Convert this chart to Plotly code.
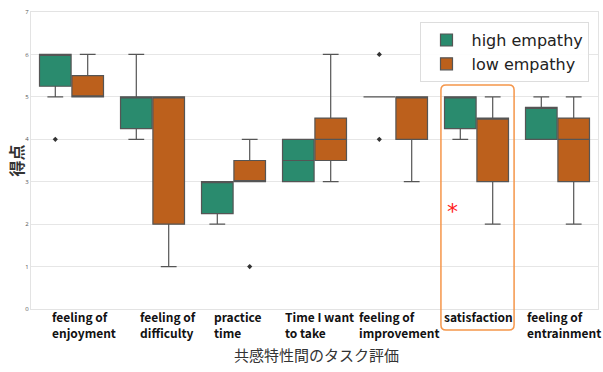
import plotly.graph_objects as go

categories = ["feeling of<br>enjoyment", "feeling of<br>difficulty", "practice<br>time",
              "Time I want<br>to take", "feeling of<br>improvement", "satisfaction",
              "feeling of<br>entrainment"]

# high empathy (green)
high_q1 = [5.25, 4.25, 2.25, 3.0, 5.0, 4.25, 4.0]
high_med = [6.0, 5.0, 3.0, 3.5, 5.0, 5.0, 4.75]
high_q3 = [6.0, 5.0, 3.0, 4.0, 5.0, 5.0, 4.75]
high_lo = [5.0, 4.0, 2.0, 3.0, 5.0, 4.0, 4.0]
high_hi = [6.0, 6.0, 3.0, 4.0, 5.0, 5.0, 5.0]
high_out_cat = [0, 4, 4]
high_out_val = [4.0, 6.0, 4.0]

# low empathy (orange)
low_q1 = [5.0, 2.0, 3.0, 3.5, 4.0, 3.0, 3.0]
low_med = [5.0, 5.0, 3.0, 4.0, 5.0, 4.5, 4.0]
low_q3 = [5.5, 5.0, 3.5, 4.5, 5.0, 4.5, 4.5]
low_lo = [5.0, 1.0, 3.0, 3.0, 3.0, 2.0, 2.0]
low_hi = [6.0, 5.0, 4.0, 6.0, 5.0, 5.0, 5.0]
low_out_cat = [2]
low_out_val = [1.0]

label_offsets = [-0.27, -0.18, -0.27, -0.39, -0.48, -0.43, -0.40]
yticks = [0, 1, 2, 3, 4, 5, 6, 7]

GREEN = "#2a8b6e"
ORANGE = "#bc601c"
EDGE = "#555555"
DX = 0.2

idx = list(range(len(categories)))
fig = go.Figure()

fig.add_trace(go.Box(
    name="high empathy", x=[i - DX for i in idx],
    q1=high_q1, median=high_med, q3=high_q3, lowerfence=high_lo, upperfence=high_hi,
    fillcolor=GREEN, line=dict(color=EDGE, width=1.2), width=0.39, whiskerwidth=0.5,
    boxpoints=False, hoverinfo="skip"))
fig.add_trace(go.Box(
    name="low empathy", x=[i + DX for i in idx],
    q1=low_q1, median=low_med, q3=low_q3, lowerfence=low_lo, upperfence=low_hi,
    fillcolor=ORANGE, line=dict(color=EDGE, width=1.2), width=0.39, whiskerwidth=0.5,
    boxpoints=False, hoverinfo="skip"))

fig.add_trace(go.Scatter(
    x=[c - DX for c in high_out_cat], y=high_out_val, mode="markers",
    marker=dict(symbol="diamond", size=4, color="#333333"), showlegend=False,
    hoverinfo="skip"))
fig.add_trace(go.Scatter(
    x=[c + DX for c in low_out_cat], y=low_out_val, mode="markers",
    marker=dict(symbol="diamond", size=4, color="#333333"), showlegend=False,
    hoverinfo="skip"))

# category labels
for i, lab in enumerate(categories):
    fig.add_annotation(x=i + label_offsets[i], y=-0.012, xref="x", yref="paper",
                       text="<b>" + lab + "</b>", showarrow=False, xanchor="left",
                       yanchor="top", align="left", yshift=7,
                       font=dict(family="Noto Sans CJK JP", size=12, color="#111111"))

# significance mark
fig.add_annotation(x=4.70, y=2.41, xref="x", yref="y", text="*", showarrow=False,
                   font=dict(family="DejaVu Sans", size=22, color="#ff2020"), yshift=-5)

# highlight rounded rectangle around satisfaction
x0, x1, y0, y1 = 0.723, 0.852, -0.071, 0.754
rx, ry = 5 / 567, 5 / 297
path = (f"M {x0+rx},{y1} L {x1-rx},{y1} Q {x1},{y1} {x1},{y1-ry} "
        f"L {x1},{y0+ry} Q {x1},{y0} {x1-rx},{y0} L {x0+rx},{y0} "
        f"Q {x0},{y0} {x0},{y0+ry} L {x0},{y1-ry} Q {x0},{y1} {x0+rx},{y1} Z")
fig.add_shape(type="path", path=path, xref="paper", yref="paper",
              line=dict(color="#f5964a", width=1.5))

fig.update_layout(
    width=603, height=372,
    margin=dict(l=31, r=5, t=12, b=63),
    paper_bgcolor="white", plot_bgcolor="white",
    boxmode="overlay",
    showlegend=True,
    legend=dict(x=0.985, y=0.966, xanchor="right", yanchor="top",
                bgcolor="rgba(255,255,255,0.9)", bordercolor="#dddddd", borderwidth=1,
                font=dict(family="DejaVu Sans", size=16, color="#222222"),
                itemwidth=40, tracegroupgap=4),
    xaxis=dict(range=[-0.5, 6.5], showticklabels=False, showgrid=False, zeroline=False,
               showline=True, mirror=True, linecolor="#e3e3e3", linewidth=1, ticks=""),
    yaxis=dict(range=[0, 7], tickvals=yticks, showgrid=True, gridcolor="#e6e6e6",
               zeroline=False, showline=True, mirror=True, linecolor="#e3e3e3",
               tickfont=dict(size=6, color="#555555"), ticks=""),
)

fig.add_annotation(x=0.5, y=-0.135, xref="paper", yref="paper", yanchor="top",
                   text="共感特性間のタスク評価", showarrow=False,
                   font=dict(family="Noto Sans CJK JP", size=15, color="#333333"), xshift=2,
                   yshift=7)
fig.add_annotation(x=0, y=0.5, xref="paper", yref="paper", xanchor="center",
                   text="<b>得点</b>", showarrow=False, textangle=-90, xshift=-16,
                   font=dict(family="Noto Sans CJK JP", size=16, color="#333333"))

fig.write_html("out.html", config={"displayModeBar": False},
               post_script="document.body.style.margin='0';")
